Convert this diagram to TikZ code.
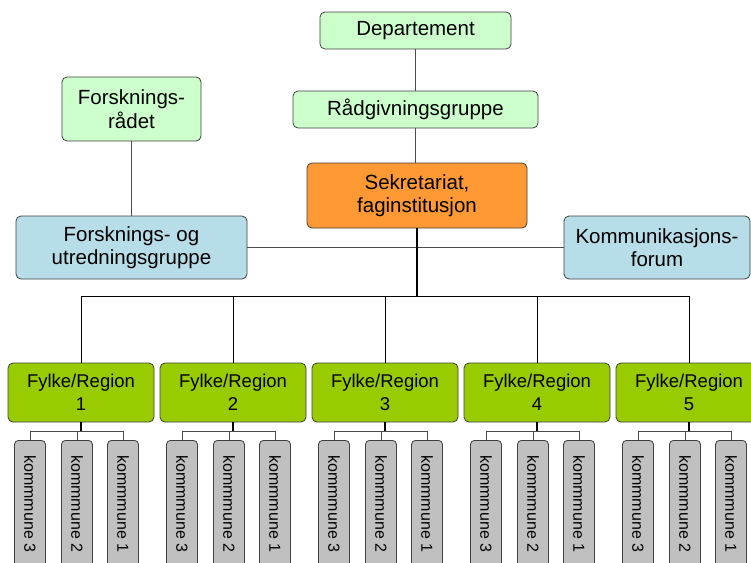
\documentclass[tikz,border=0pt]{standalone}
\usepackage{fontspec}
\setmainfont{Liberation Sans}
\definecolor{lgreen}{HTML}{CCFFCC}
\definecolor{orng}{HTML}{FF9933}
\definecolor{lblue}{HTML}{B7DDE8}
\definecolor{fgreen}{HTML}{99CC00}
\definecolor{kgray}{HTML}{C0C0C0}
\begin{document}
\begin{tikzpicture}[x=1pt,y=-1pt,
  box/.style={draw=black!75,line width=0.8pt,rounded corners=5pt,align=center,inner sep=0pt,
    font=\fontsize{20.5}{23.5}\selectfont},
  lg/.style={box,fill=lgreen},
  org/.style={box,fill=orng},
  blu/.style={box,fill=lblue},
  fyl/.style={box,fill=fgreen,minimum width=146pt,minimum height=59pt,font=\fontsize{18.5}{23}\selectfont},
  kom/.style={draw=black!75,line width=0.8pt,rounded corners=4pt,fill=kgray,inner sep=0pt,
    rotate=-90,anchor=west,minimum width=127pt,minimum height=31pt,font=\fontsize{16}{19}\selectfont},
  con/.style={draw=black!70,line width=0.8pt},
  tcon/.style={draw=black,line width=1.3pt}]
\path[use as bounding box] (0,0) rectangle (751,562);
\clip (0,0) rectangle (751,562);

\node[lg,minimum width=191pt,minimum height=37pt] (dep) at (415.5,30.5) {Departement};
\node[lg,minimum width=245pt,minimum height=37pt] (rad) at (415.5,109.5) {Rådgivningsgruppe};
\node[org,minimum width=220pt,minimum height=65pt] (sek) at (417,195.5) {Sekretariat,\\faginstitusjon};
\node[lg,minimum width=139pt,minimum height=64pt] (fr) at (131.5,109) {Forsknings-\\rådet};
\node[blu,minimum width=231pt,minimum height=63pt] (fu) at (131.5,247.5) {Forsknings- og\\utredningsgruppe};
\node[blu,minimum width=186pt,minimum height=63pt] (kf) at (657,247.5) {Kommunikasjons-\\forum};

\draw[con] (dep.south) -- (rad.north);
\draw[con] (rad.south) -- (rad.south |- sek.north);
\draw[con] (fr.south) -- (fu.north);
\draw[con] (fu.east) -- (kf.west);

\coordinate (busL) at (81,296);
\coordinate (busR) at (689,296);
\draw[tcon] (sek.south) -- (sek.south |- busL);
\draw[con,draw=black] (busL) -- (busR);

\foreach \i in {1,...,5} {
  \pgfmathsetmacro{\cx}{81+152*(\i-1)}
  \node[fyl] (fy\i) at (\cx,392.5) {Fylke/Region\\\i};
  \draw[con,draw=black] (fy\i.north) -- (fy\i.north |- busL);
  \coordinate (h\i) at (\cx,431);
  \node[kom] (ka\i) at (\cx-51,440) {kommmune 3};
  \node[kom] (kb\i) at (\cx-4,440) {kommmune 2};
  \node[kom] (kc\i) at (\cx+42,440) {kommmune 1};
  \draw[tcon] (fy\i.south) -- (h\i);
  \draw[con] (ka\i.west) -- (ka\i.west |- h\i) -- (kc\i.west |- h\i) -- (kc\i.west);
  \draw[con] (kb\i.west) -- (kb\i.west |- h\i);
}
\end{tikzpicture}
\end{document}
